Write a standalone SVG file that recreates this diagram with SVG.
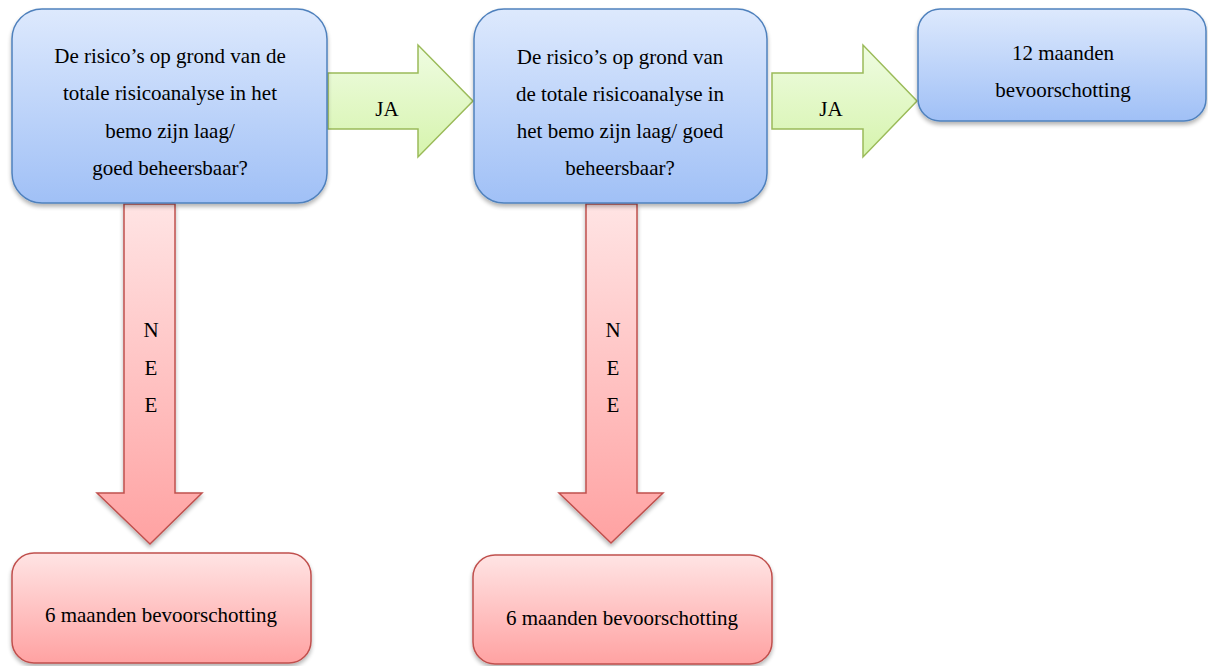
<svg xmlns="http://www.w3.org/2000/svg" width="1208" height="666" viewBox="0 0 1208 666">
<defs>
<linearGradient id="gBlue" x1="0" y1="0" x2="0" y2="1"><stop offset="0" stop-color="#dde9fd"/><stop offset="1" stop-color="#a0c0f6"/></linearGradient>
<linearGradient id="gRed" x1="0" y1="0" x2="0" y2="1"><stop offset="0" stop-color="#ffe4e4"/><stop offset="1" stop-color="#ffa2a2"/></linearGradient>
<linearGradient id="gGreen" x1="0" y1="0" x2="0" y2="1"><stop offset="0" stop-color="#effce2"/><stop offset="1" stop-color="#d6f4ad"/></linearGradient>
<filter id="sh" x="-10%" y="-10%" width="120%" height="125%"><feGaussianBlur in="SourceAlpha" stdDeviation="2"/><feOffset dx="0" dy="3"/><feComponentTransfer><feFuncA type="linear" slope="0.3"/></feComponentTransfer><feMerge><feMergeNode/><feMergeNode in="SourceGraphic"/></feMerge></filter>
</defs>
<style>
.blue{fill:url(#gBlue);stroke:#4f81bd;stroke-width:1.5;filter:url(#sh)}
.red{fill:url(#gRed);stroke:#c0504d;stroke-width:1.5;filter:url(#sh)}
.green{fill:url(#gGreen);stroke:#9bbb59;stroke-width:1.5}
.t{font-family:"Times New Roman","Liberation Serif",serif;font-size:21px;fill:#000;text-anchor:middle}
</style>
<g id="connectors">
<g id="ja1"><path class="green" d="M328,73 H418 V45 L473,101 L418,157 V129 H328 Z"/><text class="t" x="387" y="116">JA</text></g>
<g id="ja2"><path class="green" d="M772,73 H863 V45 L917,101 L863,157 V129 H772 Z"/><text class="t" x="831" y="116">JA</text></g>
<g id="nee1"><path class="red" d="M124,204 H175 V493 H202 L150,544 L97,493 H124 Z"/><text class="t" x="151" y="337">N</text><text class="t" x="151" y="375">E</text><text class="t" x="151" y="412">E</text></g>
<g id="nee2"><path class="red" d="M586,204 H637 V493 H663 L611,543 L559,493 H586 Z"/><text class="t" x="613" y="337">N</text><text class="t" x="613" y="375">E</text><text class="t" x="613" y="412">E</text></g>
</g>
<g id="q1"><rect class="blue" x="12" y="9" width="315" height="194" rx="30"/>
<text class="t" x="170" y="63">De risico’s op grond van de</text>
<text class="t" x="170" y="100">totale risicoanalyse in het</text>
<text class="t" x="170" y="138">bemo zijn laag/</text>
<text class="t" x="170" y="175">goed beheersbaar?</text></g>
<g id="q2"><rect class="blue" x="474" y="9" width="293" height="194" rx="30"/>
<text class="t" x="620" y="64">De risico’s op grond van</text>
<text class="t" x="620" y="101">de totale risicoanalyse in</text>
<text class="t" x="620" y="138">het bemo zijn laag/ goed</text>
<text class="t" x="620" y="175">beheersbaar?</text></g>
<g id="r12"><rect class="blue" x="918" y="9" width="288" height="112" rx="22"/>
<text class="t" x="1063" y="60">12 maanden</text>
<text class="t" x="1063" y="97">bevoorschotting</text></g>
<g id="r6a"><rect class="red" x="12" y="553" width="299" height="110" rx="22"/>
<text class="t" x="161" y="622">6 maanden bevoorschotting</text></g>
<g id="r6b"><rect class="red" x="473" y="555" width="299" height="109" rx="22"/>
<text class="t" x="622" y="625">6 maanden bevoorschotting</text></g>
</svg>
